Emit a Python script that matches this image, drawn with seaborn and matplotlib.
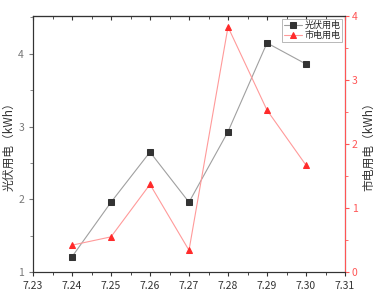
import pandas as pd
import matplotlib.pyplot as plt
import seaborn as sns
from matplotlib.ticker import MultipleLocator

# data
dates = [7.24, 7.25, 7.26, 7.27, 7.28, 7.29, 7.30]
pv_use = [1.21, 1.96, 2.65, 1.96, 2.93, 4.15, 3.86]      # 光伏用电
grid_use = [0.42, 0.55, 1.37, 0.34, 3.83, 2.53, 1.67]    # 市电用电
x_ticks = [7.23, 7.24, 7.25, 7.26, 7.27, 7.28, 7.29, 7.30, 7.31]

df = pd.DataFrame({"date": dates, "pv": pv_use, "grid": grid_use})

sns.set_style("ticks")
plt.rcParams['font.family'] = ['Noto Sans CJK SC', 'DejaVu Sans']

fig = plt.figure(figsize=(3.75, 2.97), dpi=100)
ax = fig.add_axes([0.088, 0.084, 0.832, 0.862])
ax2 = ax.twinx()

sns.lineplot(data=df, x="date", y="pv", ax=ax, color="#a0a0a0", lw=0.8,
             marker="s", markersize=4, markerfacecolor="#333333",
             markeredgecolor="#333333", label="光伏用电", legend=False)
sns.lineplot(data=df, x="date", y="grid", ax=ax2, color="#ff9a9a", lw=0.8,
             marker="^", markersize=5, markerfacecolor="#ff2a2a",
             markeredgecolor="#ff2a2a", label="市电用电", legend=False)

ax.set_xlim(7.23, 7.31)
ax.set_ylim(1, 4.52)
ax2.set_ylim(0, 4)
ax.set_xticks(x_ticks)
ax.set_xticklabels([f"{v:.2f}" for v in x_ticks])
ax.xaxis.set_minor_locator(MultipleLocator(0.005))
ax.yaxis.set_major_locator(MultipleLocator(1))
ax.yaxis.set_minor_locator(MultipleLocator(0.5))
ax2.yaxis.set_major_locator(MultipleLocator(1))
ax2.yaxis.set_minor_locator(MultipleLocator(0.5))

ax.set_xlabel("")
ax.set_ylabel("光伏用电（kWh）", fontsize=8.5, color="#333333", labelpad=2)
ax2.set_ylabel("市电用电（kWh）", fontsize=8.5, color="#333333", labelpad=3)

for a in (ax, ax2):
    for s in a.spines.values():
        s.set_linewidth(0.8)
        s.set_color("#333333")
ax2.spines['right'].set_color("#ff5555")

# top axis ticks point inward like the original
top = ax.secondary_xaxis('top')
top.set_xticks(x_ticks)
top.set_xticklabels([])
top.xaxis.set_minor_locator(MultipleLocator(0.005))
top.tick_params(axis='x', which='major', direction='in', length=3, width=0.8, colors="#333333")
top.tick_params(axis='x', which='minor', direction='in', length=2, width=0.6, colors="#333333")
top.spines['top'].set_linewidth(0.8)
top.spines['top'].set_color("#333333")

ax.tick_params(axis='x', which='major', length=3, width=0.8, labelsize=7.5, colors="#333333")
ax.tick_params(axis='x', which='minor', length=2, width=0.6)
ax.tick_params(axis='y', which='major', length=3, width=0.8, labelsize=7.5, colors="#777777")
ax.tick_params(axis='y', which='minor', length=2, width=0.6, colors="#777777")
ax2.tick_params(axis='y', which='major', length=3, width=0.8, labelsize=7.5, colors="#ff5555", pad=2)
ax2.tick_params(axis='y', which='minor', length=2, width=0.6, colors="#ff5555")

h1, l1 = ax.get_legend_handles_labels()
h2, l2 = ax2.get_legend_handles_labels()
leg = ax2.legend(h1 + h2, l1 + l2, loc="upper right", fontsize=6.5, frameon=True,
                 fancybox=False, borderpad=0.2, labelspacing=0.1, handlelength=2,
                 handletextpad=0.3, borderaxespad=0.3)
leg.get_frame().set_edgecolor("#999999")
leg.get_frame().set_linewidth(0.6)

fig.savefig("out.png", dpi=100)
